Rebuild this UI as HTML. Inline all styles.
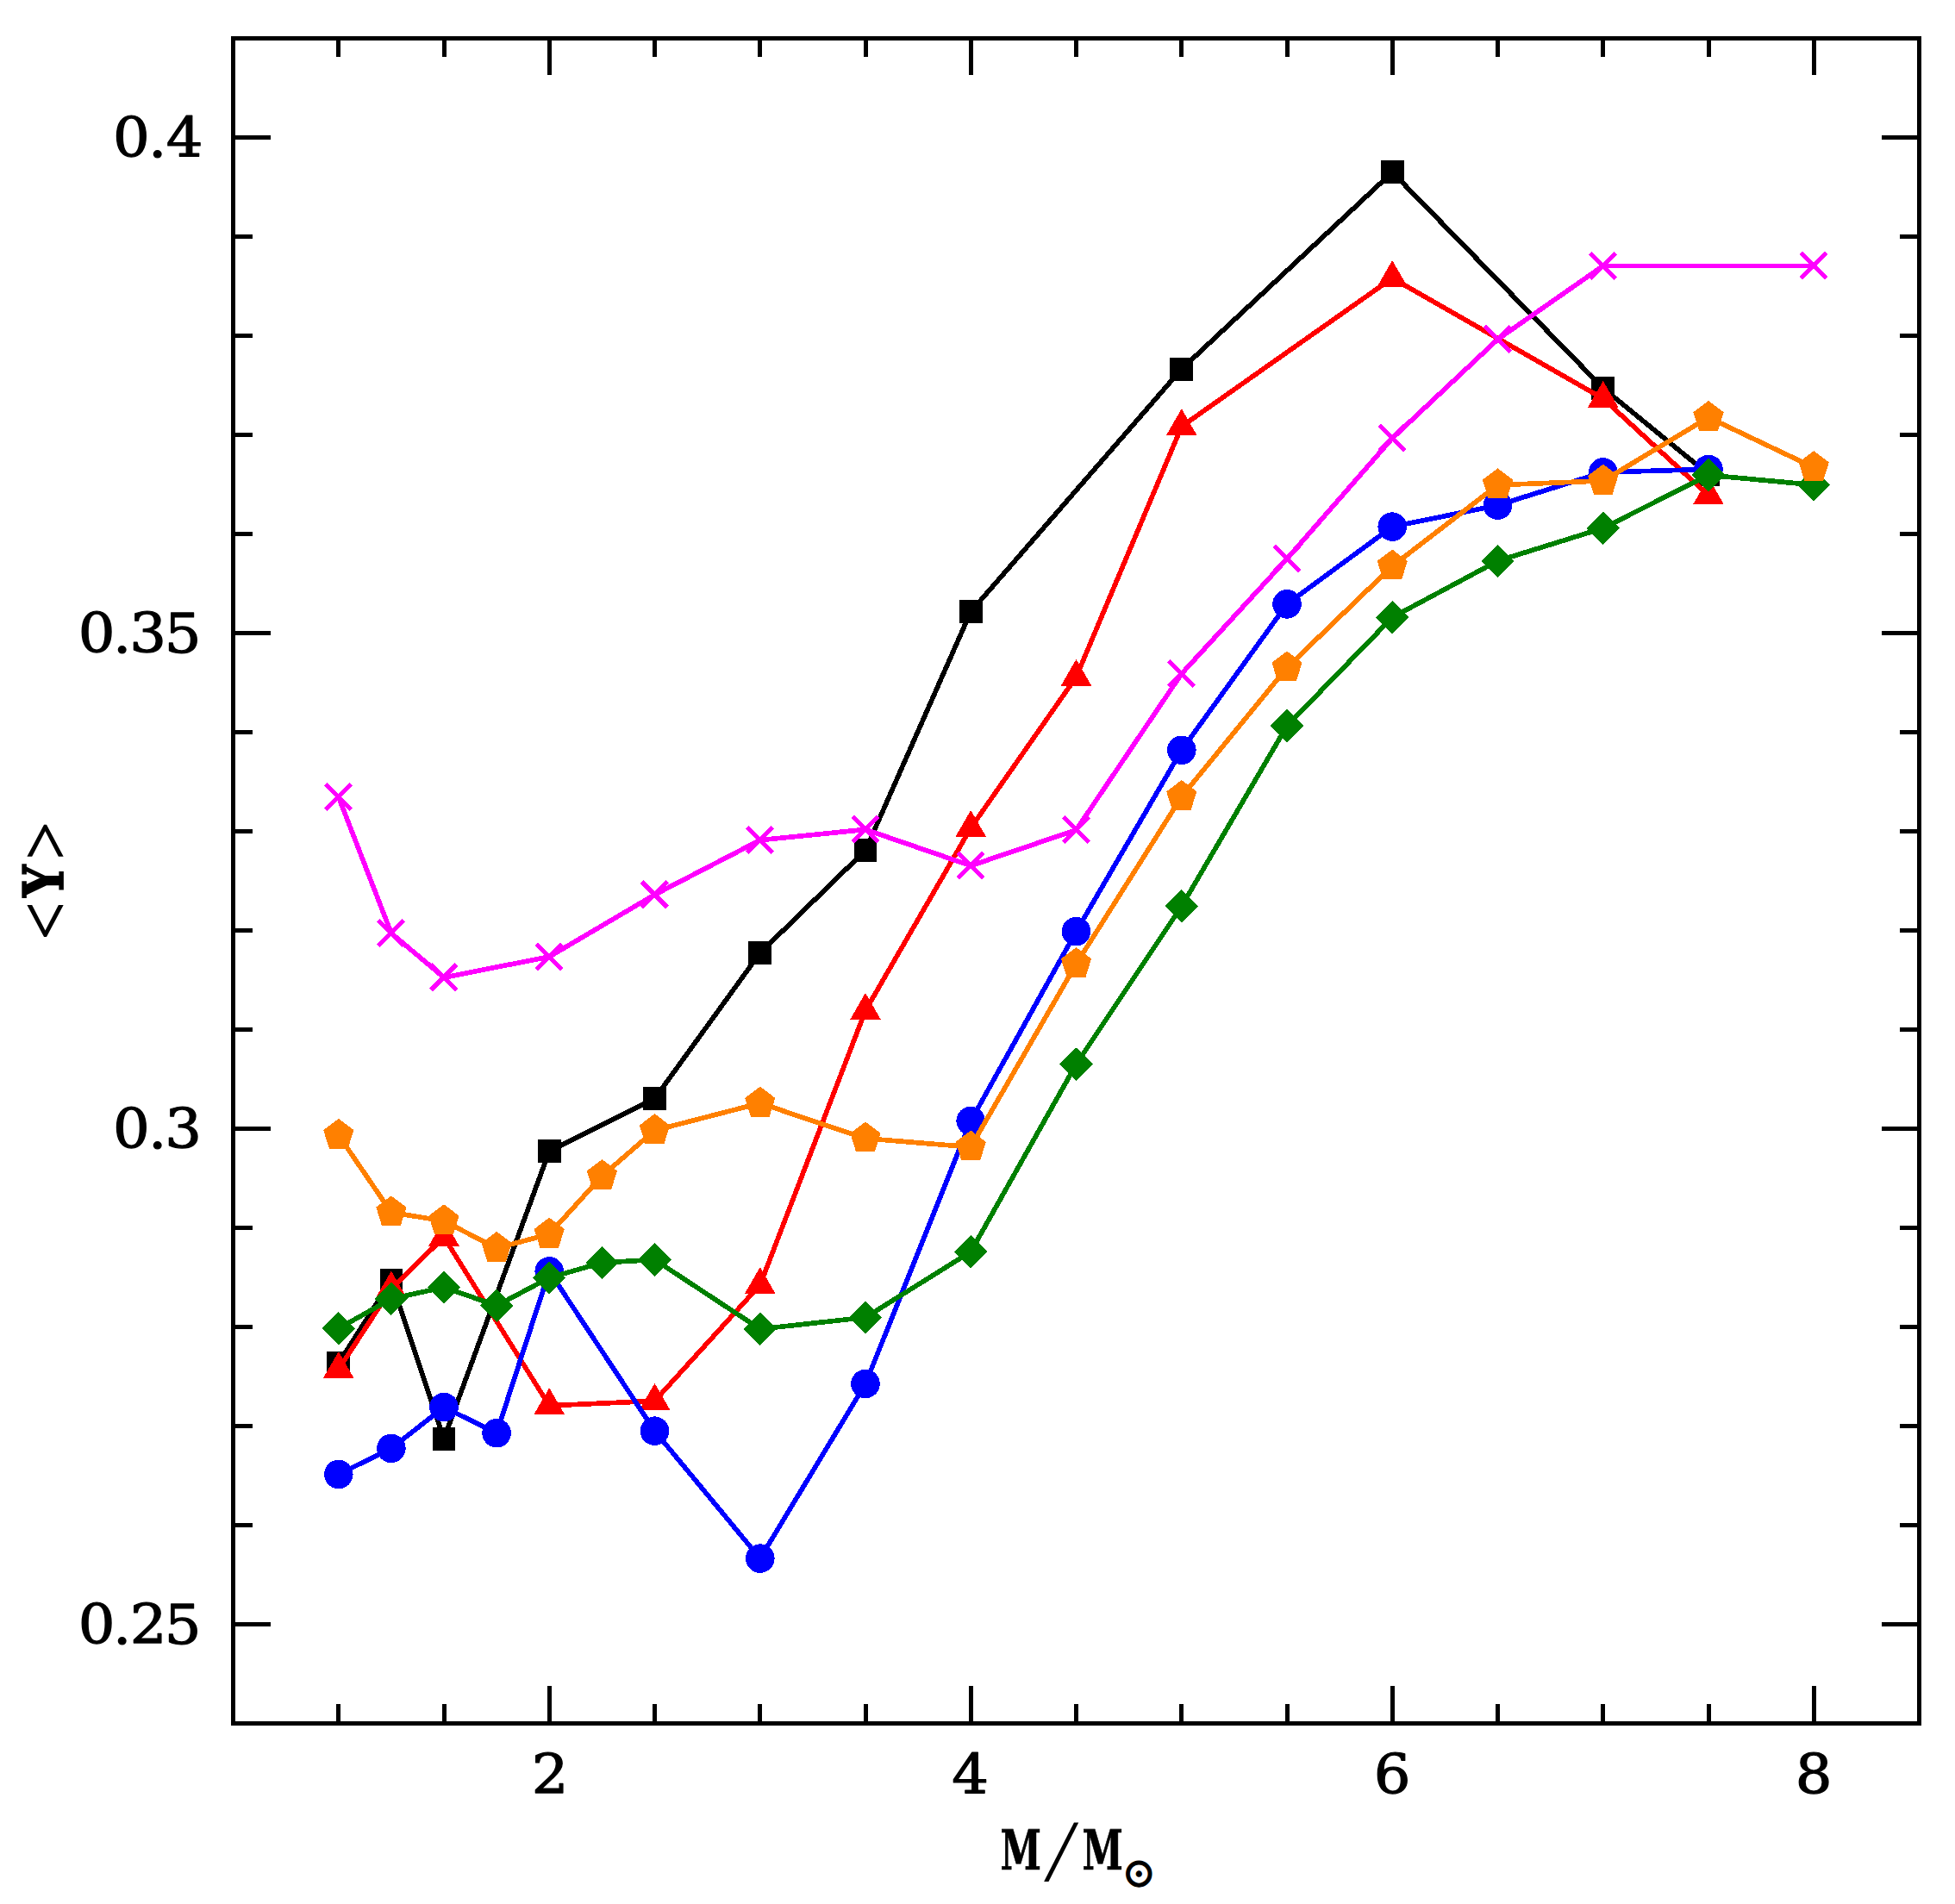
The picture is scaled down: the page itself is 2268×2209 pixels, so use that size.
<!DOCTYPE html>
<html><head><meta charset="utf-8"><title>plot</title>
<style>html,body{margin:0;padding:0;background:#fff}svg{display:block}</style>
</head><body>
<svg width="2268" height="2209" viewBox="0 0 2268 2209" shape-rendering="crispEdges">
<rect width="2268" height="2209" fill="#fff"/>
<g>
<polyline points="392.8,1581.5 453.9,1485.7 515,1669.2 637.2,1335.5 759.5,1274.6 881.8,1105.5 1004,986.6 1126.2,709.6 1370.8,428.1 1615.2,199.8 1859.8,450.4 1982,550.3" fill="none" stroke="#000000" stroke-width="5.7" stroke-linejoin="round"/>
<rect x="379.4" y="1568.1" width="26.8" height="26.8" fill="#000000"/>
<rect x="440.5" y="1472.3" width="26.8" height="26.8" fill="#000000"/>
<rect x="501.6" y="1655.8" width="26.8" height="26.8" fill="#000000"/>
<rect x="623.9" y="1322.1" width="26.8" height="26.8" fill="#000000"/>
<rect x="746.1" y="1261.2" width="26.8" height="26.8" fill="#000000"/>
<rect x="868.4" y="1092.1" width="26.8" height="26.8" fill="#000000"/>
<rect x="990.6" y="973.2" width="26.8" height="26.8" fill="#000000"/>
<rect x="1112.8" y="696.2" width="26.8" height="26.8" fill="#000000"/>
<rect x="1357.3" y="414.7" width="26.8" height="26.8" fill="#000000"/>
<rect x="1601.8" y="186.4" width="26.8" height="26.8" fill="#000000"/>
<rect x="1846.3" y="437" width="26.8" height="26.8" fill="#000000"/>
<rect x="1968.6" y="536.9" width="26.8" height="26.8" fill="#000000"/>
</g>
<g>
<polyline points="392.8,1588.6 453.9,1495.1 515,1435.3 637.2,1630.8 759.5,1625.4 881.8,1490.7 1004,1172.5 1126.2,960.6 1248.5,785.4 1370.8,494.8 1615.2,322.7 1859.8,462.5 1982,574.7" fill="none" stroke="#ff0000" stroke-width="5.7" stroke-linejoin="round"/>
<polygon points="392.8,1568 374.9,1598.9 410.6,1598.9" fill="#ff0000"/>
<polygon points="453.9,1474.5 436,1505.4 471.7,1505.4" fill="#ff0000"/>
<polygon points="515,1414.7 497.2,1445.6 532.8,1445.6" fill="#ff0000"/>
<polygon points="637.2,1610.2 619.4,1641.1 655.1,1641.1" fill="#ff0000"/>
<polygon points="759.5,1604.8 741.7,1635.7 777.3,1635.7" fill="#ff0000"/>
<polygon points="881.8,1470.1 863.9,1501 899.6,1501" fill="#ff0000"/>
<polygon points="1004,1151.9 986.2,1182.8 1021.8,1182.8" fill="#ff0000"/>
<polygon points="1126.2,940 1108.4,970.9 1144.1,970.9" fill="#ff0000"/>
<polygon points="1248.5,764.8 1230.7,795.7 1266.3,795.7" fill="#ff0000"/>
<polygon points="1370.8,474.2 1352.9,505.1 1388.6,505.1" fill="#ff0000"/>
<polygon points="1615.2,302.1 1597.4,333 1633.1,333" fill="#ff0000"/>
<polygon points="1859.8,441.9 1841.9,472.8 1877.6,472.8" fill="#ff0000"/>
<polygon points="1982,554.1 1964.2,585 1999.8,585" fill="#ff0000"/>
</g>
<g>
<polyline points="392.8,1710.5 453.9,1680.4 515,1632.6 576.1,1662.7 637.2,1474.9 759.5,1660.2 881.8,1808.1 1004,1605.5 1126.2,1300.5 1248.5,1080.7 1370.8,870.3 1493,700.9 1615.2,611.1 1737.5,586.2 1859.8,547.9 1982,544.5" fill="none" stroke="#0000ff" stroke-width="5.7" stroke-linejoin="round"/>
<circle cx="392.8" cy="1710.5" r="16.8" fill="#0000ff"/>
<circle cx="453.9" cy="1680.4" r="16.8" fill="#0000ff"/>
<circle cx="515" cy="1632.6" r="16.8" fill="#0000ff"/>
<circle cx="576.1" cy="1662.7" r="16.8" fill="#0000ff"/>
<circle cx="637.2" cy="1474.9" r="16.8" fill="#0000ff"/>
<circle cx="759.5" cy="1660.2" r="16.8" fill="#0000ff"/>
<circle cx="881.8" cy="1808.1" r="16.8" fill="#0000ff"/>
<circle cx="1004" cy="1605.5" r="16.8" fill="#0000ff"/>
<circle cx="1126.2" cy="1300.5" r="16.8" fill="#0000ff"/>
<circle cx="1248.5" cy="1080.7" r="16.8" fill="#0000ff"/>
<circle cx="1370.8" cy="870.3" r="16.8" fill="#0000ff"/>
<circle cx="1493" cy="700.9" r="16.8" fill="#0000ff"/>
<circle cx="1615.2" cy="611.1" r="16.8" fill="#0000ff"/>
<circle cx="1737.5" cy="586.2" r="16.8" fill="#0000ff"/>
<circle cx="1859.8" cy="547.9" r="16.8" fill="#0000ff"/>
<circle cx="1982" cy="544.5" r="16.8" fill="#0000ff"/>
</g>
<g>
<polyline points="392.8,924.8 453.9,1082.7 515,1134.1 637.2,1110 759.5,1038 881.8,974.7 1004,962.4 1126.2,1004.4 1248.5,962.9 1370.8,781.6 1493,648.4 1615.2,508.5 1737.5,393.7 1859.8,308.5 2104.2,308.5" fill="none" stroke="#ff00ff" stroke-width="5.7" stroke-linejoin="round"/>
<path d="M377.6 909.7L407.2 939.3M377.6 939.3L407.2 909.7" stroke="#ff00ff" stroke-width="5" fill="none"/>
<path d="M438.8 1067.6L468.4 1097.2M438.8 1097.2L468.4 1067.6" stroke="#ff00ff" stroke-width="5" fill="none"/>
<path d="M499.9 1119L529.5 1148.6M499.9 1148.6L529.5 1119" stroke="#ff00ff" stroke-width="5" fill="none"/>
<path d="M622.2 1094.9L651.8 1124.5M622.2 1124.5L651.8 1094.9" stroke="#ff00ff" stroke-width="5" fill="none"/>
<path d="M744.4 1022.9L774 1052.5M744.4 1052.5L774 1022.9" stroke="#ff00ff" stroke-width="5" fill="none"/>
<path d="M866.7 959.6L896.2 989.2M866.7 989.2L896.2 959.6" stroke="#ff00ff" stroke-width="5" fill="none"/>
<path d="M988.9 947.3L1018.5 976.9M988.9 976.9L1018.5 947.3" stroke="#ff00ff" stroke-width="5" fill="none"/>
<path d="M1111.2 989.3L1140.8 1018.9M1111.2 1018.9L1140.8 989.3" stroke="#ff00ff" stroke-width="5" fill="none"/>
<path d="M1233.4 947.8L1263 977.4M1233.4 977.4L1263 947.8" stroke="#ff00ff" stroke-width="5" fill="none"/>
<path d="M1355.7 766.5L1385.2 796.1M1355.7 796.1L1385.2 766.5" stroke="#ff00ff" stroke-width="5" fill="none"/>
<path d="M1477.9 633.3L1507.5 662.9M1477.9 662.9L1507.5 633.3" stroke="#ff00ff" stroke-width="5" fill="none"/>
<path d="M1600.2 493.4L1629.8 523M1600.2 523L1629.8 493.4" stroke="#ff00ff" stroke-width="5" fill="none"/>
<path d="M1722.4 378.6L1752 408.2M1722.4 408.2L1752 378.6" stroke="#ff00ff" stroke-width="5" fill="none"/>
<path d="M1844.7 293.4L1874.2 323M1844.7 323L1874.2 293.4" stroke="#ff00ff" stroke-width="5" fill="none"/>
<path d="M2089.1 293.4L2118.8 323M2089.1 323L2118.8 293.4" stroke="#ff00ff" stroke-width="5" fill="none"/>
</g>
<g>
<polyline points="392.8,1541.3 453.9,1506.9 515,1493.5 576.1,1514.8 637.2,1482.5 698.4,1464.9 759.5,1461.5 881.8,1541.9 1004,1528.5 1126.2,1452.3 1248.5,1234.7 1370.8,1051.4 1493,842.2 1615.2,716.3 1737.5,650.8 1859.8,612.8 1982,551.2 2104.2,562.6" fill="none" stroke="#008000" stroke-width="5.7" stroke-linejoin="round"/>
<polygon points="392.8,1522.1 411.9,1541.3 392.8,1560.5 373.6,1541.3" fill="#008000"/>
<polygon points="453.9,1487.7 473.1,1506.9 453.9,1526.1 434.7,1506.9" fill="#008000"/>
<polygon points="515,1474.3 534.2,1493.5 515,1512.7 495.8,1493.5" fill="#008000"/>
<polygon points="576.1,1495.6 595.3,1514.8 576.1,1534 556.9,1514.8" fill="#008000"/>
<polygon points="637.2,1463.3 656.5,1482.5 637.2,1501.7 618,1482.5" fill="#008000"/>
<polygon points="698.4,1445.7 717.6,1464.9 698.4,1484.1 679.2,1464.9" fill="#008000"/>
<polygon points="759.5,1442.3 778.7,1461.5 759.5,1480.7 740.3,1461.5" fill="#008000"/>
<polygon points="881.8,1522.7 901,1541.9 881.8,1561.1 862.5,1541.9" fill="#008000"/>
<polygon points="1004,1509.3 1023.2,1528.5 1004,1547.7 984.8,1528.5" fill="#008000"/>
<polygon points="1126.2,1433.1 1145.5,1452.3 1126.2,1471.5 1107,1452.3" fill="#008000"/>
<polygon points="1248.5,1215.5 1267.7,1234.7 1248.5,1253.9 1229.3,1234.7" fill="#008000"/>
<polygon points="1370.8,1032.2 1390,1051.4 1370.8,1070.6 1351.5,1051.4" fill="#008000"/>
<polygon points="1493,823 1512.2,842.2 1493,861.4 1473.8,842.2" fill="#008000"/>
<polygon points="1615.2,697.1 1634.5,716.3 1615.2,735.5 1596,716.3" fill="#008000"/>
<polygon points="1737.5,631.6 1756.7,650.8 1737.5,670 1718.3,650.8" fill="#008000"/>
<polygon points="1859.8,593.6 1879,612.8 1859.8,632 1840.5,612.8" fill="#008000"/>
<polygon points="1982,532 2001.2,551.2 1982,570.4 1962.8,551.2" fill="#008000"/>
<polygon points="2104.2,543.4 2123.4,562.6 2104.2,581.8 2085.1,562.6" fill="#008000"/>
</g>
<g>
<polyline points="392.8,1317.1 453.9,1406.6 515,1416.6 576.1,1448.1 637.2,1431.9 698.4,1364.4 759.5,1311.5 881.8,1279.9 1004,1320.8 1126.2,1330.8 1248.5,1118.4 1370.8,924.3 1493,774.7 1615.2,656.8 1737.5,562.7 1859.8,557.9 1982,484.3 2104.2,542.4" fill="none" stroke="#ff8000" stroke-width="5.7" stroke-linejoin="round"/>
<polygon points="392.8,1297.8 410.3,1311.1 403.6,1332.7 381.9,1332.7 375.2,1311.1" fill="#ff8000"/>
<polygon points="453.9,1387.3 471.5,1400.6 464.7,1422.2 443,1422.2 436.3,1400.6" fill="#ff8000"/>
<polygon points="515,1397.3 532.6,1410.6 525.9,1432.2 504.1,1432.2 497.4,1410.6" fill="#ff8000"/>
<polygon points="576.1,1428.8 593.7,1442.1 587,1463.7 565.3,1463.7 558.5,1442.1" fill="#ff8000"/>
<polygon points="637.2,1412.6 654.8,1425.9 648.1,1447.5 626.4,1447.5 619.7,1425.9" fill="#ff8000"/>
<polygon points="698.4,1345.1 716,1358.4 709.2,1380 687.5,1380 680.8,1358.4" fill="#ff8000"/>
<polygon points="759.5,1292.2 777.1,1305.5 770.4,1327.1 748.6,1327.1 741.9,1305.5" fill="#ff8000"/>
<polygon points="881.8,1260.6 899.3,1273.9 892.6,1295.5 870.9,1295.5 864.2,1273.9" fill="#ff8000"/>
<polygon points="1004,1301.5 1021.6,1314.8 1014.9,1336.4 993.1,1336.4 986.4,1314.8" fill="#ff8000"/>
<polygon points="1126.2,1311.5 1143.8,1324.8 1137.1,1346.4 1115.4,1346.4 1108.7,1324.8" fill="#ff8000"/>
<polygon points="1248.5,1099.1 1266.1,1112.4 1259.4,1134 1237.6,1134 1230.9,1112.4" fill="#ff8000"/>
<polygon points="1370.8,905 1388.3,918.3 1381.6,939.9 1359.9,939.9 1353.2,918.3" fill="#ff8000"/>
<polygon points="1493,755.4 1510.6,768.7 1503.9,790.3 1482.1,790.3 1475.4,768.7" fill="#ff8000"/>
<polygon points="1615.2,637.5 1632.8,650.8 1626.1,672.4 1604.4,672.4 1597.7,650.8" fill="#ff8000"/>
<polygon points="1737.5,543.4 1755.1,556.7 1748.4,578.3 1726.6,578.3 1719.9,556.7" fill="#ff8000"/>
<polygon points="1859.8,538.6 1877.3,551.9 1870.6,573.5 1848.9,573.5 1842.2,551.9" fill="#ff8000"/>
<polygon points="1982,465 1999.6,478.3 1992.9,499.9 1971.1,499.9 1964.4,478.3" fill="#ff8000"/>
<polygon points="2104.2,523.1 2121.8,536.4 2115.1,558 2093.4,558 2086.7,536.4" fill="#ff8000"/>
</g>
<rect x="270.5" y="44.5" width="1956.0" height="1955.0" fill="none" stroke="#000" stroke-width="5"/>
<path d="M392.8 1999.5v-22.5M392.8 44.5v21.5M515 1999.5v-22.5M515 44.5v21.5M637.2 1999.5v-43.5M637.2 44.5v42.5M759.5 1999.5v-22.5M759.5 44.5v21.5M881.8 1999.5v-22.5M881.8 44.5v21.5M1004 1999.5v-22.5M1004 44.5v21.5M1126.2 1999.5v-43.5M1126.2 44.5v42.5M1248.5 1999.5v-22.5M1248.5 44.5v21.5M1370.8 1999.5v-22.5M1370.8 44.5v21.5M1493 1999.5v-22.5M1493 44.5v21.5M1615.2 1999.5v-43.5M1615.2 44.5v42.5M1737.5 1999.5v-22.5M1737.5 44.5v21.5M1859.8 1999.5v-22.5M1859.8 44.5v21.5M1982 1999.5v-22.5M1982 44.5v21.5M2104.2 1999.5v-43.5M2104.2 44.5v42.5M270.5 1884.5h43.5M2226.5 1884.5h-43.5M270.5 1769.5h22.5M2226.5 1769.5h-22.5M270.5 1654.5h22.5M2226.5 1654.5h-22.5M270.5 1539.5h22.5M2226.5 1539.5h-22.5M270.5 1424.5h22.5M2226.5 1424.5h-22.5M270.5 1309.5h43.5M2226.5 1309.5h-43.5M270.5 1194.5h22.5M2226.5 1194.5h-22.5M270.5 1079.5h22.5M2226.5 1079.5h-22.5M270.5 964.5h22.5M2226.5 964.5h-22.5M270.5 849.5h22.5M2226.5 849.5h-22.5M270.5 734.5h43.5M2226.5 734.5h-43.5M270.5 619.5h22.5M2226.5 619.5h-22.5M270.5 504.5h22.5M2226.5 504.5h-22.5M270.5 389.5h22.5M2226.5 389.5h-22.5M270.5 274.5h22.5M2226.5 274.5h-22.5M270.5 159.5h43.5M2226.5 159.5h-43.5" stroke="#000" stroke-width="5" fill="none"/>
<g font-family="'DejaVu Serif', 'Liberation Serif', serif" font-size="63.46" fill="#000" stroke="#000" stroke-width="1.2" stroke-linejoin="round">
<text transform="translate(0,182.00) scale(1.06,1)" x="123.65 162.32 181.92" y="0">0.4</text>
<text transform="translate(0,757.00) scale(1.06,1)" x="85.53 123.55 141.77 179.89" y="0">0.35</text>
<text transform="translate(0,1332.00) scale(1.06,1)" x="123.65 162.32 180.45" y="0">0.3</text>
<text transform="translate(0,1907.00) scale(1.06,1)" x="85.53 123.55 142.30 179.89" y="0">0.25</text>
<text transform="translate(0,2080.90) scale(1.06,1)" x="581.95" y="0">2</text>
<text transform="translate(0,2080.90) scale(1.06,1)" x="1041.80" y="0">4</text>
<text transform="translate(0,2080.90) scale(1.06,1)" x="1503.51" y="0">6</text>
<text transform="translate(0,2080.90) scale(1.06,1)" x="1964.97" y="0">8</text>
</g>
<g fill="#000"><text transform="translate(1160.40,2168.60) scale(0.4292,0.6324)" font-family="'DejaVu Serif', 'Liberation Serif', serif" font-weight="bold" font-size="100" stroke="#000" stroke-width="0.6" vector-effect="non-scaling-stroke">M</text><text transform="matrix(1.1066,0,-0.1397,1.0257,1211.24,2181.69)" font-family="'Liberation Serif', serif" font-size="100">/</text><text transform="translate(1255.50,2168.60) scale(0.4283,0.6324)" font-family="'DejaVu Serif', 'Liberation Serif', serif" font-weight="bold" font-size="100" stroke="#000" stroke-width="0.6" vector-effect="non-scaling-stroke">M</text><text transform="translate(1302.93,2187.17) scale(0.4591,0.4717)" font-family="'DejaVu Math TeX Gyre', 'DejaVu Serif', 'DejaVu Sans', sans-serif" font-weight="normal" font-size="100" stroke="#000" stroke-width="1.2" vector-effect="non-scaling-stroke">⊙</text></g>
<g fill="#000" transform="translate(74,1022) rotate(-90)"><text transform="translate(-68.22,5.96) scale(0.7672,0.8209)" font-family="'Liberation Serif', serif" font-weight="normal" font-size="100" stroke="#000" stroke-width="1.4" vector-effect="non-scaling-stroke">&lt;</text><text transform="translate(-18.84,-0.70) scale(0.5233,0.6420)" font-family="'DejaVu Serif', 'Liberation Serif', serif" font-weight="bold" font-size="100" stroke="#000" stroke-width="1.6" vector-effect="non-scaling-stroke">Y</text><text transform="translate(24.99,5.96) scale(0.7693,0.8209)" font-family="'Liberation Serif', serif" font-weight="normal" font-size="100" stroke="#000" stroke-width="1.4" vector-effect="non-scaling-stroke">&gt;</text></g>
</svg>
</body></html>
